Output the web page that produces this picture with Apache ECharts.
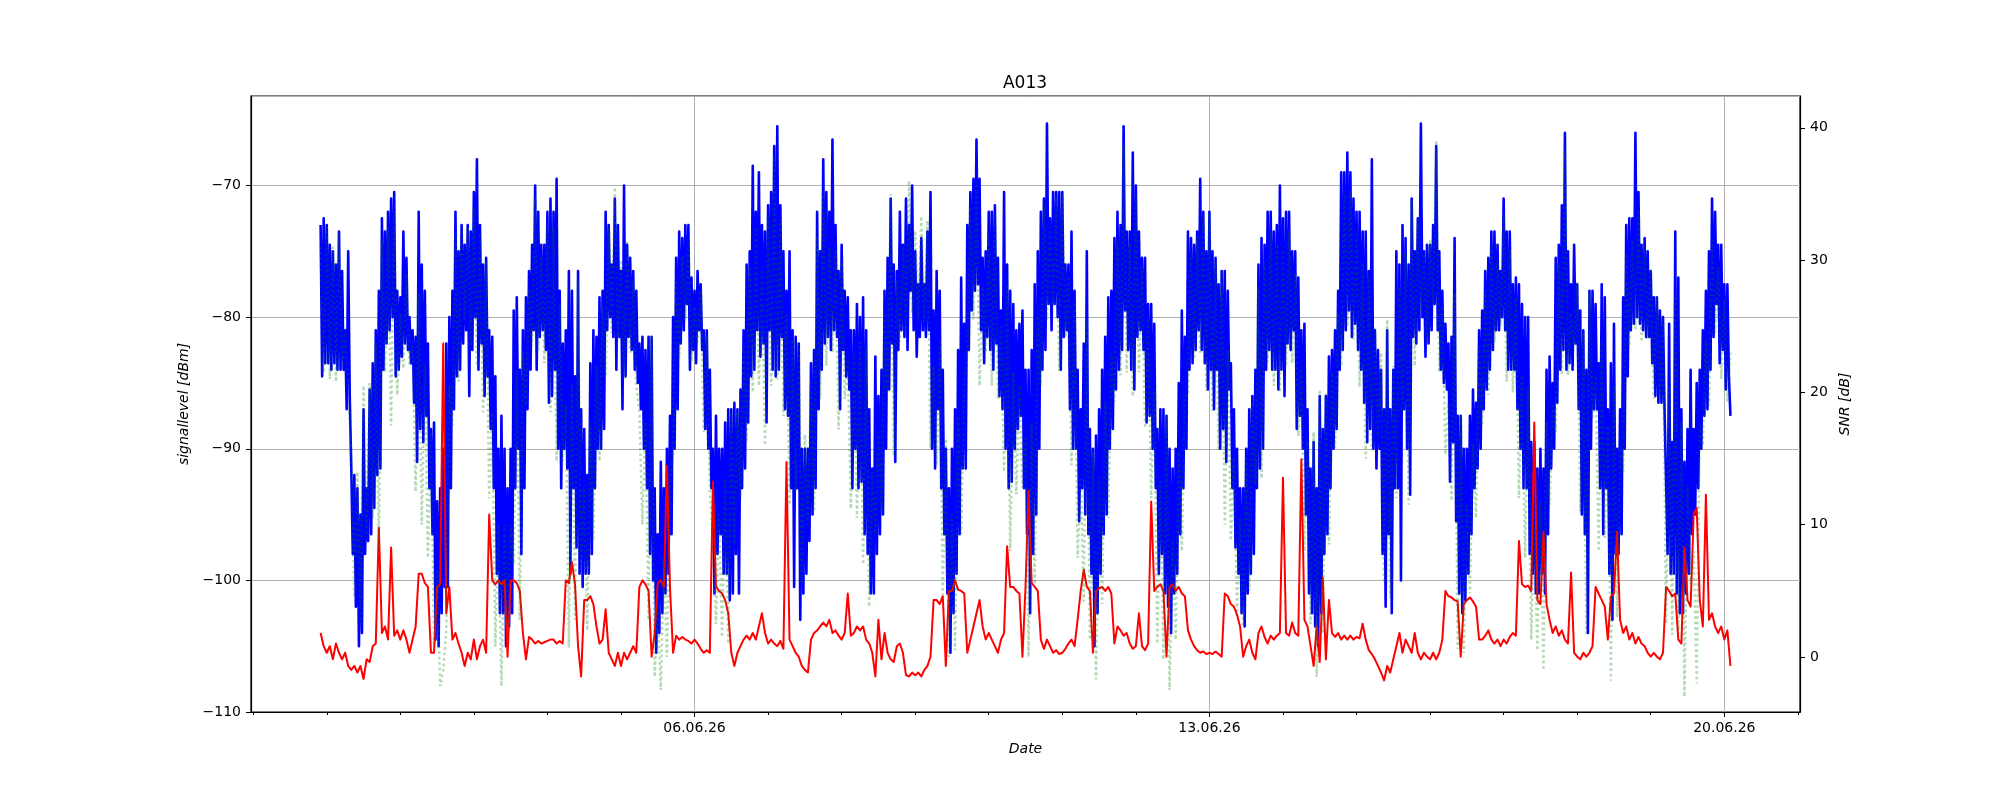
<!DOCTYPE html>
<html>
<head>
<meta charset="utf-8">
<script src="https://cdn.jsdelivr.net/npm/echarts@6/dist/echarts.min.js"></script>
<style>
  html, body { margin: 0; padding: 0; background: #fff; }
  #chart { width: 2000px; height: 800px; }
</style>
</head>
<body>
<div id="chart"></div>
<script>
// signal level, one value every 30 min from 31.05.26 22:00 (dBm)
const blueLevel = [
  -73,-84.5,-72.5,-83.5,
  -73,-83.5,-74.5,-84,-75,-83.5,-76,-84,-73.5,-84,-76.5,-84,-81,-87,-75,-86,-91.5,-98,-92,-102,-93,-105,-95,-104,-87,-98,-93,-97,-85.5,-96.5,-83.5,-94.5,-81,-92,-78,-91.5,-72.5,-84,-73.5,-82,-72,-81,-71,-80,-70.5,-84.5,-78,-84,
  -78.5,-83,-73.5,-82,-75.5,-82.5,-80,-83.5,-81,-86.5,-81.5,-91,-72,-88.5,-76,-89.5,-78,-87.5,-82,-93,-88.5,-96.5,-88,-104.5,-94,-105,-93,-102.5,-90,-100.5,-82,-100.5,-80,-93,-78,-87,-72,-84.5,-75,-84,-73,-82,-74.5,-81,-73,-86,-73.5,-82.5,
  -70.5,-80,-68,-84,-73,-82,-76,-86,-75.5,-84.5,-81,-88.5,-81.5,-93,-84.5,-99.5,-90,-102.5,-87.5,-102.5,-90,-105,-93,-103.5,-90,-102.5,-79.5,-93,-78.5,-90,-84,-98,-81,-93,-78.5,-87,-76.5,-84,-74.5,-81,-70,-84,-72,-81.5,-74.5,-81,-74.5,-82.5,
  -72,-86.5,-71,-86,-72,-84,-69.5,-90,-78,-93,-82,-90,-81,-91.5,-76.5,-99.5,-78,-93,-84.5,-97.5,-76.5,-99.5,-87,-100.5,-88.5,-99.5,-92,-99.5,-83.5,-98,-81,-93,-81.5,-90,-78.5,-90,-78,-88.5,-72,-81,-73,-80,-76,-81.5,-71,-84,-73,-81.5,
  -76.5,-87,-70,-84.5,-74.5,-81.5,-75.5,-82.5,-76.5,-84,-78,-85,-82,-87,-81.5,-90,-82.5,-93,-81.5,-98,-81.5,-100,-93,-105.5,-96.5,-104,-91,-102.5,-93,-101,-90,-99.5,-87.5,-96.5,-80,-90,-75.5,-87,-73.5,-82,-74,-81,-73,-79,-73,-84,-77,-82.5,
  -78,-83.5,-76.5,-81,-77.5,-82.5,-81,-88.5,-81,-90,-84,-93,-90,-101,-87.5,-98,-90,-96.5,-90,-99.5,-88,-99.5,-87,-101.5,-87,-101,-86.5,-98,-87,-101,-85.5,-93,-81,-91.5,-76,-88,-75,-84.5,-68.5,-84,-72,-81,-69,-83,-73,-82,-73.5,-88,
  -71.5,-81,-70.5,-84,-67,-84.5,-65.5,-84,-71.5,-81.5,-75,-87,-78,-87.5,-75,-93,-81,-100.5,-81.5,-93,-82,-103,-90,-101,-90,-99.5,-90,-97,-83.5,-95,-82.5,-93,-72,-87,-75,-84,-68,-82,-70.5,-81.5,-72,-82.5,-66.5,-81,-73,-81.5,-76.5,-87,
  -74.5,-82.5,-78,-84.5,-78.5,-85.5,-81,-93,-81,-90,-79,-93,-80,-92.5,-78.5,-96.5,-81,-98,-87,-101,-91.5,-101,-83,-98,-86,-96.5,-84,-95,-78,-90,-75.5,-85.5,-71,-82,-76,-91,-76.5,-82.5,-72,-81,-74.5,-81.5,-71,-82.5,-73,-78,-70,-81,
  -75,-83,-77.5,-81.5,-74,-81,-77.5,-81.5,-73.5,-81,-70.5,-90,-79.5,-91.5,-76.5,-87,-78,-93,-84,-96.5,-90,-101,-93,-105.5,-90,-102.5,-87,-99.5,-82.5,-96.5,-77,-91.5,-80.5,-91.5,-73,-82.5,-70.5,-79.5,-69.5,-78,-66.5,-77.5,-69.5,-81,-75.5,-83.5,-75,-81.5,
  -72,-82.5,-72,-84,-71.5,-82,-75.5,-86,-79.5,-87,-70.5,-90,-76,-93,-78,-92.5,-79,-90,-81,-88.5,-80.5,-87.5,-79.5,-93,-84,-96.5,-84,-102.5,-82.5,-98,-77.5,-95,-75,-90,-72,-84,-71,-82.5,-65.3,-79,-72.5,-81,-70.5,-79,-70.5,-80,-70.5,-84,
  -70.5,-81.5,-76,-81,-76,-87,-73.5,-90,-78,-90,-84,-95.5,-87,-93,-82,-95,-75,-96.5,-88.5,-99.5,-90,-105,-89,-102.5,-87,-99.5,-84,-96.5,-81.5,-95,-78.5,-90,-78,-88.5,-74,-85.5,-72,-84,-73,-82.5,-65.5,-79.5,-73.5,-82.5,-73.5,-84,-67.5,-85.5,
  -70,-81.5,-73.5,-81,-75.5,-82.5,-75.5,-88,-79,-87.5,-79,-90,-80.5,-93,-88.5,-99.5,-87,-98,-87,-101,-87.5,-102,-90,-104,-91.5,-101,-90,-99.5,-85,-96.5,-79.5,-93,-81.5,-90,-73.5,-84,-74,-83.5,-74.5,-82.5,-73.5,-81,-69.5,-82.5,-72,-83.5,-75,-85.5,
  -72,-84,-75,-87,-75.5,-84,-77.5,-90,-76.5,-88.5,-76.5,-91,-78,-85.5,-83.5,-93,-87,-97.5,-90,-99.5,-93,-102.5,-93,-103.5,-90,-101,-87,-99.5,-86,-98,-84,-93,-76,-91.5,-74,-90,-74.5,-84,-72,-82.5,-72,-84,-73.5,-84,-73,-85.5,-70,-84,
  -72.5,-86,-72,-82,-72,-82.5,-75,-81,-75,-88.5,-77,-87.5,-81,-90,-80.5,-95,-87,-101,-91.5,-102.5,-89.5,-103.5,-93,-105,-86,-102.5,-88.5,-98,-86,-96.5,-83,-93,-82.5,-90,-81,-88.5,-78,-84,-69,-82.5,-69,-81,-67.5,-79.5,-69,-81.5,-71,-80.5,
  -72,-82.5,-72,-84,-73.5,-86.5,-73.5,-89.5,-76.5,-88.5,-68,-90,-81,-91.5,-82.5,-90,-84,-98,-87,-102,-81,-96.5,-87,-102.5,-84,-93,-75,-93,-76,-100,-73,-87,-74,-90,-76,-93.5,-71,-81.5,-75,-82,-72.5,-81,-65.3,-80,-75,-83,-74.5,-82,
  -74.5,-81,-73,-79,-67,-81,-75,-84,-78,-85,-80.5,-85.5,-82,-92.5,-81.5,-89.5,-74,-95.5,-87.5,-101,-87.5,-102.5,-90,-101.5,-90,-99.5,-87.5,-96.5,-85.5,-93,-86.5,-91.5,-81,-90,-79.5,-87,-76.5,-85.5,-75.5,-84,-73.5,-82.5,-73.5,-81,-74.5,-81,-76.5,-80,
  -71,-81,-73.5,-84,-73.5,-84,-77.5,-84,-77,-87,-77.5,-90,-79,-93,-80,-93,-80,-98,-89.5,-99.5,-89.5,-101,-91.5,-101,-90,-99.5,-91.5,-101,-84,-96.5,-83,-91.5,-85,-90,-75.5,-86.5,-74.5,-84,-71.5,-82.5,-66,-84,-75,-83.5,-77.5,-84,-74.5,-82,
  -77.5,-87,-79.5,-95,-81,-96.5,-84,-104,-78,-90,-78,-87,-79,-87,-83.5,-93,-77.5,-96.5,-78.5,-93,-87,-99.5,-83.5,-103,-80.5,-98,-90,-98,-87,-96.5,-78.5,-90,-73,-84.5,-72.5,-81,-72.5,-80.5,-66,-80,-70.5,-80.5,-74.5,-81,-74,-81.5,-75,-81.5,
  -76.5,-83.5,-78.5,-86,-78.5,-86.5,-79.5,-86.5,-80,-87,-87,-98,-80.5,-99.5,-89.5,-99.5,-73.5,-101,-77,-102.5,-87,-102.5,-91,-101,-88.5,-99.5,-84,-96.5,-88.5,-95,-85,-93,-84,-90,-81,-87.5,-78,-87,-75,-84,-71,-81.5,-72,-79,-74.5,-83.5,-74.5,-82.5,
  -77.5,-85.5,-77.5,-84.5,-87.5
];

// noise level, one value every hour from 31.05.26 22:00 (dBm)
const redNoise = [
  -104,-105,-105.5,-105,-106,-104.8,-105.5,-106,-105.5,-106.5,-106.8,-106.5,-107,-106.5,-107.5,-106,-106.2,-105,-104.8,-96,-104,-103.5,-104.5,-97.5,-104.2,-103.8,
  -104.5,-103.8,-104.5,-105.5,-104.5,-103.5,-99.5,-99.5,-100.2,-100.5,-105.5,-105.5,-100.5,-100.3,-82,-102.5,-100.5,-104.5,-104,-104.8,-105.5,-106.5,-105.5,-106,
  -104.5,-106,-105,-104.5,-105.5,-95,-100,-100.3,-100,-100.3,-100,-105.8,-100,-100,-100.2,-100.8,-104,-106,-104.3,-104.5,-104.8,-104.6,-104.8,-104.7,
  -104.6,-104.5,-104.5,-104.8,-104.6,-104.8,-100,-100.2,-98.6,-100.3,-105,-107.3,-101.5,-101.5,-101.2,-101.8,-103.5,-104.8,-104.5,-102.2,-105.5,-106,-106.5,-105.5,
  -106.5,-105.5,-106,-105.5,-105,-105.5,-100.5,-100,-100.3,-100.8,-105.8,-104,-100.2,-100,-100.5,-91.3,-100.6,-105.5,-104.2,-104.5,-104.3,-104.5,-104.6,-104.8,
  -104.5,-104.8,-105.2,-105.5,-105.3,-105.5,-92.5,-100.5,-100.8,-101,-101.5,-102.5,-105.5,-106.5,-105.5,-105,-104.5,-104.2,-104.5,-104,-104.5,-103.5,-102.5,-104,
  -104.8,-104.5,-104.8,-105,-104.6,-105.2,-91,-104.5,-105,-105.5,-105.8,-106.5,-106.8,-107,-104.5,-104,-103.8,-103.5,-103.2,-103.5,-103,-104,-103.8,-104.2,
  -104.5,-104,-101,-104.2,-104,-103.5,-103.8,-103.5,-104.5,-104.8,-105.5,-107.3,-103,-106,-104,-105.5,-106,-106.2,-105,-104.8,-105.5,-107.2,-107.3,-107,
  -107.2,-107,-107.3,-106.8,-106.5,-105.8,-101.5,-101.5,-101.8,-101.2,-106.5,-100.8,-100.8,-100,-100.7,-100.8,-101,-105.5,-104.5,-103.5,-102.5,-101.5,-103.5,-104.5,
  -104,-104.5,-105,-105.5,-104.5,-104,-97.4,-100.5,-100.5,-100.8,-101,-105.8,-100.5,-93.2,-100.2,-100.5,-100.8,-104.5,-105.2,-104.5,-105,-105.5,-105.3,-105.6,
  -105.5,-105.2,-104.8,-104.5,-105,-103,-100.8,-99.2,-100.5,-100.8,-105.5,-100.8,-100.6,-100.5,-100.8,-100.5,-101,-104.8,-103.5,-103.8,-104.2,-104,-104.8,-105.2,
  -105,-102.5,-105,-105.3,-104.8,-94,-100.8,-100.5,-100.3,-100.8,-105.8,-100.5,-100.3,-100.8,-100.5,-101,-101.2,-103.8,-104.5,-105,-105.3,-105.5,-105.4,-105.6,
  -105.5,-105.6,-105.4,-105.6,-105.8,-101,-101.2,-101.8,-102,-102.6,-103.5,-105.8,-105,-104.5,-105.5,-106,-104,-103.5,-104.3,-104.8,-104.2,-104.5,-104.2,-104,
  -92.2,-104,-104.2,-103.2,-104,-104.2,-90.8,-103,-103.5,-105,-106.5,-103.5,-106.2,-99.8,-106,-101.5,-104,-104.3,-104,-104.5,-104.2,-104.5,-104.2,-104.5,
  -104.3,-104.4,-103.3,-104.5,-105.3,-105.6,-106,-106.5,-107,-107.6,-106.5,-107,-106,-105,-104,-105.5,-104.5,-105,-105.5,-104,-105.5,-106,-105.5,-105.8,
  -106,-105.5,-106,-105.5,-104.5,-100.8,-101.2,-101.3,-101.5,-101.6,-105.8,-101.8,-101.5,-101.3,-101.6,-102,-104.5,-104.5,-104.2,-103.8,-104.5,-104.8,-104.5,-105,
  -104.5,-104.8,-104.3,-104,-104.2,-97,-100.3,-100.5,-100.4,-100.8,-88,-101.5,-101.8,-96.3,-101.8,-103,-104,-103.5,-104.2,-103.8,-104.5,-104.8,-99.4,-105.5,
  -105.8,-106,-105.5,-105.8,-105.5,-105,-100.5,-101,-101.5,-102,-104.5,-101.2,-101,-96.3,-103,-104,-103.5,-104.5,-104,-104.8,-104.3,-104.8,-105,-105.5,
  -105.8,-105.5,-105.8,-106,-105.5,-100.5,-100.8,-101.2,-101,-104.5,-104.8,-97.5,-101.5,-102,-95,-94.5,-101.5,-103.5,-93.5,-103,-102.5,-103.5,-104,-103.5,
  -104.5,-103.8,-106.5
];

// SNR, one value every hour from 31.05.26 22:00 (dB)
const greenSnr = [
  31,21.5,32.5,21,31,20.8,32,22,24.5,20.5,15.3,4.5,14,2.5,20.5,9,20.7,10.5,23.8,8,31.5,21.5,32.5,17.5,33.7,19.8,
  26,21.8,29,22,23.5,12.5,27.5,10,22.2,7.5,17,1,6.5,-2.2,-1,2,20.5,17.5,32,20.8,32.5,25.5,32.5,23.5,
  34,22,32,18.5,30,12,18.5,0.8,10,-2.2,10,2.3,10,7,21.7,2.8,23,19,27.8,23.5,34.8,23.1,30.3,22.2,
  32.6,18.5,32.5,14.8,26.6,14.8,19,0.7,20.6,2.8,28.5,6.8,13,2,17.7,8.8,22,14.8,26.5,21.2,32.5,24.5,35.5,24,
  30,21,31.5,23,28.5,20.5,18.5,10,17.8,2.8,24.3,-1.5,3.7,-2.5,7.5,0,13.1,15.5,28.7,22.5,30.3,25.5,31.6,22.3,
  26.5,23.8,27.7,17,24.3,12.5,9,2.5,10.8,1.5,13.5,1,18.5,8.5,18.5,12,23.5,16.2,29.5,20,32.5,20.5,29.5,16,
  33.3,20.5,37.8,21,33.1,18.2,26,11.5,24,12.5,23.8,5.5,16.8,10,21,11,31.8,19.5,35.2,22,31,23,30.8,17.2,
  30,19.5,22.5,11.2,23,10.5,23.8,7,23.5,3.8,14,9.3,17,11,26,20,35,15.2,28.5,23.8,31,24.7,36,26,
  32.2,25.5,33.3,25.3,33,15.8,22,14.5,23.8,4.7,16.5,0,10.8,0.5,18.2,9.3,20.5,23,34,25.5,36,20.5,28,23,
  32,20.5,33.5,19.5,25,14,28,8,21.5,12.3,20.5,12.8,16.5,0,17.7,5.5,25.8,20.5,34.2,25.5,32.5,26.5,34.8,21.6,
  35,24.2,28.8,14.5,27,7.5,13.8,4.2,25.5,1.3,15.5,-1.7,13.6,4,19.3,10.5,23,19.3,31.5,21.3,38.7,21.5,31.3,19.7,
  35,21.5,29.5,17.3,25.8,12,20.3,1,13.3,-0.2,18.3,-2.5,8.8,1.3,15.5,8,19.7,19.8,30.5,22.5,31.8,23,33.4,20.1,
  33.5,18.6,29.9,15.6,29.3,10,23.2,8.8,15,3.1,10.5,2.3,15,5,19.5,13,28,13.5,29.8,22.3,32.2,20.5,31.2,20,
  31,22,32.2,22.2,29,16.7,22,8,16.5,2.5,17,-1.5,20.2,1.8,20,8.5,21.5,15.8,26,22,35.2,25,35.2,24,
  32.3,20.4,29.8,15,28.8,15.6,25,16.5,23,5.6,25.5,4.5,22,12,28,18.5,30.5,11.5,34.5,22,33,26,30.5,23.8,
  31.5,26.5,39,21.5,26.5,15.3,19.2,11.8,27.5,0.6,18.3,0.3,11.5,4.8,16.1,10.5,23.5,17.5,27.7,19.8,31,23.8,30,25,
  33.5,20.8,30.8,20,27.2,12,21.3,7.5,20.4,1.3,10,0.5,11.8,-1,17.8,11.5,19,17,29.7,21.3,38.5,21.3,26,23.5,
  28.3,11,24.5,1.8,27.5,18,21.5,8,24,9,17.5,-1.8,20.5,3,16,14,30.5,23.5,31.5,24.8,33.8,23.8,31,24,
  29.3,19.5,27.3,19.5,25.5,2.5,20.3,1.7,27.5,2,17.8,-3,13,5.5,8,-2,17.5,16,24,19,31.5,24.5,29.5,21,
  27,19.3,23
];

const majorDates = ['2026-06-06', '2026-06-13', '2026-06-20'];
const rightTicks = [0, 10, 20, 30, 40];

const HOUR = 3600000;
const DAY = 86400000;
const start = Date.UTC(2026, 4, 31, 22);
const xMin = Date.UTC(2026, 4, 30, 23, 17);
const xMax = Date.UTC(2026, 5, 21, 0, 42);

const bluePts = blueLevel.map((v, i) => [start + i * HOUR / 2, v]);
const redPts = redNoise.map((v, i) => [start + i * HOUR, v]);
const greenPts = greenSnr.map((v, i) => [start + i * HOUR, v]);

const majorTicks = majorDates.map(d => Date.parse(d + 'T00:00:00Z'));
const minorTicks = [];
for (let t = Date.UTC(2026, 4, 31); t <= xMax; t += DAY) minorTicks.push(t);

const font = 'DejaVu Sans';
const pad2 = n => String(n).padStart(2, '0');
function fmtDate(v) {
  const d = new Date(v);
  return pad2(d.getUTCDate()) + '.' + pad2(d.getUTCMonth() + 1) + '.' + pad2(d.getUTCFullYear() % 100);
}
const minus = v => String(v).replace('-', '\u2212');

const tickLabel = { fontFamily: font, fontSize: 14, color: '#000' };
const axisName = { fontFamily: font, fontSize: 14, fontStyle: 'italic', color: '#000' };

const chart = echarts.init(document.getElementById('chart'));
chart.setOption({
  animation: false,
  backgroundColor: '#fff',
  title: {
    text: 'A013',
    left: 1020,
    top: 70,
    textAlign: 'center',
    textStyle: { fontFamily: font, fontSize: 17, fontWeight: 'normal', color: '#000' }
  },
  grid: {
    left: 251, right: 200, top: 96, bottom: 88,
    show: true, borderColor: '#000', borderWidth: 1.2,
    outerBoundsMode: 'none'
  },
  xAxis: [
    {
      type: 'value', min: xMin, max: xMax, position: 'bottom',
      name: 'Date', nameLocation: 'middle', nameGap: 30, nameTextStyle: axisName,
      axisLine: { show: true, onZero: false, lineStyle: { color: '#000', width: 1.2 } },
      axisTick: { customValues: majorTicks, length: 5, lineStyle: { color: '#000', width: 1 } },
      axisLabel: { customValues: majorTicks, formatter: fmtDate, margin: 9, ...tickLabel },
      splitLine: { show: true, lineStyle: { color: '#b0b0b0', width: 1 } }
    },
    {
      type: 'value', min: xMin, max: xMax, position: 'bottom',
      axisLine: { show: false, onZero: false },
      axisTick: { customValues: minorTicks, length: 3, lineStyle: { color: '#000', width: 1 } },
      axisLabel: { show: false },
      splitLine: { show: false }
    }
  ],
  yAxis: [
    {
      type: 'value', min: -110, max: -63.2, interval: 10, position: 'left',
      name: 'signallevel [dBm]', nameLocation: 'middle', nameGap: 50, nameRotate: 90,
      nameTextStyle: axisName,
      axisLine: { show: true, onZero: false, lineStyle: { color: '#000', width: 1.2 } },
      axisTick: { show: true, length: 5, lineStyle: { color: '#000', width: 1 } },
      axisLabel: { formatter: minus, showMaxLabel: false, margin: 10, ...tickLabel },
      splitLine: { show: true, lineStyle: { color: '#b0b0b0', width: 1 } }
    },
    {
      type: 'value', min: -4.16, max: 42.4, position: 'right',
      name: 'SNR [dB]', nameLocation: 'middle', nameGap: 26, nameRotate: 90,
      nameTextStyle: axisName,
      axisLine: { show: true, onZero: false, lineStyle: { color: '#000', width: 1.2 } },
      axisTick: { customValues: rightTicks, length: 5, lineStyle: { color: '#000', width: 1 } },
      axisLabel: { customValues: rightTicks, formatter: minus, margin: 10, ...tickLabel },
      splitLine: { show: false }
    }
  ],
  series: [
    {
      name: 'signal', type: 'line', xAxisIndex: 0, yAxisIndex: 0, data: bluePts,
      symbol: 'none', silent: true,
      lineStyle: { color: '#0000ff', width: 2.6, join: 'round' }
    },
    {
      name: 'noise', type: 'line', xAxisIndex: 0, yAxisIndex: 0, data: redPts,
      symbol: 'none', silent: true,
      lineStyle: { color: '#ff0000', width: 2, join: 'round' }
    },
    {
      name: 'snr', type: 'line', xAxisIndex: 0, yAxisIndex: 1, data: greenPts,
      symbol: 'none', silent: true,
      lineStyle: { color: '#008000', opacity: 0.3, width: 2.5, type: [2.5, 3] }
    }
  ]
});
</script>
</body>
</html>
